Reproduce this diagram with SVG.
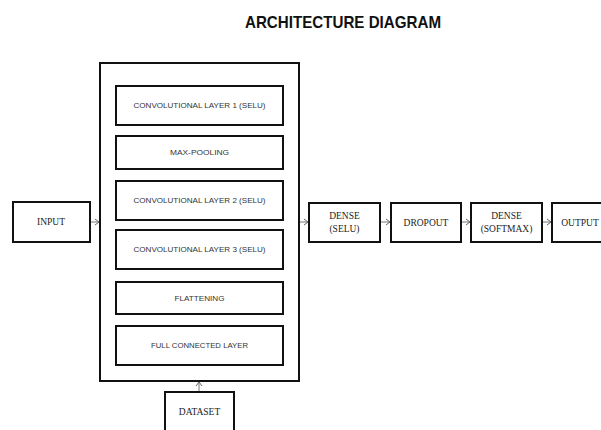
<svg xmlns="http://www.w3.org/2000/svg" width="601" height="430" viewBox="0 0 601 430">
  <style>
    .box { fill: #ffffff; stroke: #111111; stroke-width: 2; }
    .inner { font-family: "Liberation Sans", Arial, sans-serif; font-size: 8px; fill: #333333; text-anchor: middle; dominant-baseline: central; }
    .lbl { font-family: "Liberation Serif", "Times New Roman", serif; font-size: 9.5px; fill: #222222; text-anchor: middle; dominant-baseline: central; }
    .title { font-family: "Liberation Sans", Arial, sans-serif; font-size: 17px; font-weight: bold; fill: #111111; }
    .conn { stroke: #777777; stroke-width: 1; fill: none; }
  </style>
  <defs>
    <marker id="chev" markerUnits="userSpaceOnUse" markerWidth="8" markerHeight="8" refX="5" refY="4" orient="auto">
      <path d="M1,1 L5,4 L1,7" fill="none" stroke="#666666" stroke-width="1"/>
    </marker>
  </defs>
  <rect width="601" height="430" fill="#ffffff"/>

  <text class="title" x="245" y="28" textLength="196" lengthAdjust="spacingAndGlyphs">ARCHITECTURE DIAGRAM</text>

  <g id="input">
    <rect class="box" x="13" y="202" width="77" height="40"/>
    <text class="lbl" x="51" y="222">INPUT</text>
  </g>

  <g id="cnn-block">
    <rect class="box" x="100" y="63" width="199" height="318"/>
  </g>

  <g id="conv1">
    <rect class="box" x="116" y="86" width="167" height="39"/>
    <text class="inner" x="199.5" y="105.5" textLength="132" lengthAdjust="spacingAndGlyphs">CONVOLUTIONAL LAYER 1 (SELU)</text>
  </g>
  <g id="maxpool">
    <rect class="box" x="116" y="136" width="167" height="33"/>
    <text class="inner" x="199.5" y="152.5" textLength="59" lengthAdjust="spacingAndGlyphs">MAX-POOLING</text>
  </g>
  <g id="conv2">
    <rect class="box" x="116" y="181" width="167" height="39"/>
    <text class="inner" x="199.5" y="200.5" textLength="132" lengthAdjust="spacingAndGlyphs">CONVOLUTIONAL LAYER 2 (SELU)</text>
  </g>
  <g id="conv3">
    <rect class="box" x="116" y="230" width="167" height="39"/>
    <text class="inner" x="199.5" y="249.5" textLength="132" lengthAdjust="spacingAndGlyphs">CONVOLUTIONAL LAYER 3 (SELU)</text>
  </g>
  <g id="flatten">
    <rect class="box" x="116" y="282" width="167" height="32"/>
    <text class="inner" x="199.5" y="298" textLength="50" lengthAdjust="spacingAndGlyphs">FLATTENING</text>
  </g>
  <g id="fc">
    <rect class="box" x="116" y="326" width="167" height="39"/>
    <text class="inner" x="199.5" y="345.5" textLength="97" lengthAdjust="spacingAndGlyphs">FULL CONNECTED LAYER</text>
  </g>

  <g id="dense-selu">
    <rect class="box" x="309" y="203" width="71" height="39"/>
    <text class="lbl" x="344.5" y="216">DENSE</text>
    <text class="lbl" x="344.5" y="229">(SELU)</text>
  </g>
  <g id="dropout">
    <rect class="box" x="391" y="203" width="70" height="39"/>
    <text class="lbl" x="426" y="222.5">DROPOUT</text>
  </g>
  <g id="dense-softmax">
    <rect class="box" x="471" y="203" width="71" height="39"/>
    <text class="lbl" x="506.5" y="216">DENSE</text>
    <text class="lbl" x="506.5" y="229">(SOFTMAX)</text>
  </g>
  <g id="output">
    <rect class="box" x="552" y="203" width="71" height="39"/>
    <text class="lbl" x="580" y="222.5">OUTPUT</text>
  </g>

  <g id="dataset">
    <rect class="box" x="165" y="392" width="69" height="50"/>
    <text class="lbl" x="199.5" y="412">DATASET</text>
  </g>

  <g id="connectors">
    <line class="conn" x1="91" y1="222" x2="99" y2="222" marker-end="url(#chev)"/>
    <line class="conn" x1="300" y1="222" x2="308" y2="222" marker-end="url(#chev)"/>
    <line class="conn" x1="381" y1="222" x2="390" y2="222" marker-end="url(#chev)"/>
    <line class="conn" x1="462" y1="222" x2="470" y2="222" marker-end="url(#chev)"/>
    <line class="conn" x1="543" y1="222" x2="551" y2="222" marker-end="url(#chev)"/>
    <line class="conn" x1="199" y1="391" x2="199" y2="382" marker-end="url(#chev)"/>
  </g>
</svg>
